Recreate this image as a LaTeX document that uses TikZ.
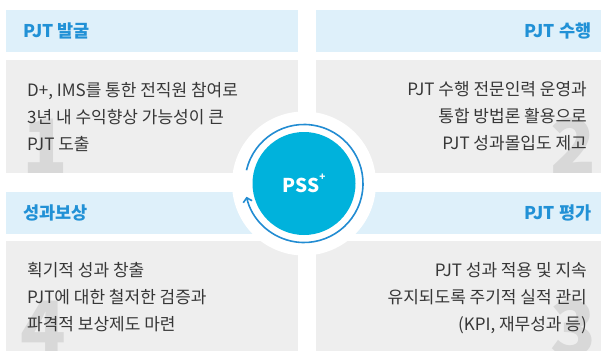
\documentclass[tikz,border=0pt]{standalone}
\usepackage{fontspec}
\setmainfont{Noto Sans CJK KR}
\usepackage{xcolor}
\usepackage{tikz}
\usetikzlibrary{arrows.meta, positioning}
\definecolor{headblue}{RGB}{222,240,250}
\definecolor{bodygray}{RGB}{238,238,238}
\definecolor{numgray}{RGB}{216,216,216}
\definecolor{textgray}{RGB}{55,55,55}
\definecolor{titleblue}{RGB}{33,145,214}
\definecolor{pssblue}{RGB}{0,178,220}
\definecolor{ringblue}{RGB}{34,140,210}

\begin{document}
\begin{tikzpicture}[x=1pt,y=-1pt,
          head/.style={fill=headblue,inner sep=0pt,minimum height=42pt,anchor=north west},
          panel/.style={fill=bodygray,inner sep=0pt,anchor=north west},
          title/.style={text=titleblue,inner sep=0pt,font=\fontsize{17.5}{17.5}\selectfont\bfseries},
          desc/.style={text=textgray,inner sep=0pt,font=\fontsize{17}{27}\selectfont},
          digit/.style={text=numgray,inner sep=0pt,font=\fontsize{75}{75}\selectfont\bfseries}]
        \path[use as bounding box,clip] (0,0) rectangle (603,351);
        \node[head,minimum width=292pt] (h1) at (6,10) {};
        \node[head,minimum width=285pt] (h2) at (316,10) {};
        \node[head,minimum width=292pt] (h4) at (6,192) {};
        \node[head,minimum width=285pt] (h3) at (316,192) {};
        \node[panel,minimum width=292pt,minimum height=113pt] (b1) at (6,60) {};
        \node[panel,minimum width=285pt,minimum height=113pt] (b2) at (316,60) {};
        \node[panel,minimum width=292pt,minimum height=110pt] (b4) at (6,241) {};
        \node[panel,minimum width=285pt,minimum height=110pt] (b3) at (316,241) {};
        \node[digit,anchor=base west] (n1) at (22,173) {1};
        \node[digit,anchor=base east] (n2) at (596,173) {2};
        \node[digit,anchor=base east] (n3) at (596,355) {3};
        \node[digit,anchor=base west] (n4) at (20,355) {4};
        \node[title,anchor=west] (t1) at ([xshift=17pt]h1.west) {PJT 발굴};
        \node[title,anchor=east] (t2) at ([xshift=-10pt]h2.east) {PJT 수행};
        \node[title,anchor=west] (t4) at ([xshift=17pt]h4.west) {성과보상};
        \node[title,anchor=east] (t3) at ([xshift=-10pt]h3.east) {PJT 평가};
        \node[desc,anchor=west,align=left] (d1) at (27,117)
          {D+, IMS를 통한 전직원 참여로\\3년 내 수익향상 가능성이 큰\\PJT 도출};
        \node[desc,anchor=east,align=right] (d2) at (587,116)
          {PJT 수행 전문인력 운영과\\통합 방법론 활용으로\\PJT 성과몰입도 제고};
        \node[desc,anchor=east,align=right] (d3) at (587,298)
          {PJT 성과 적용 및 지속\\유지되도록 주기적 실적 관리\\(KPI, 재무성과 등)};
        \node[desc,anchor=west,align=left] (d4) at (27,297)
          {획기적 성과 창출\\PJT에 대한 철저한 검증과\\파격적 보상제도 마련};
        \node[circle,fill=white,minimum size=144pt] (ring) at (304,183.5) {};
        \node[circle,fill=pssblue,minimum size=103pt,text=white,
              font=\fontsize{19}{19}\selectfont\bfseries] (pss) at (ring)
          {PSS\raisebox{0.6em}{\fontsize{10}{10}\selectfont +}};
        \draw[ringblue,line width=1.6pt,-{Straight Barb[length=4pt,width=9pt]}]
          (ring.center) ++(167:59pt) arc[start angle=167,end angle=-167,radius=59pt];
      \end{tikzpicture}
\end{document}
